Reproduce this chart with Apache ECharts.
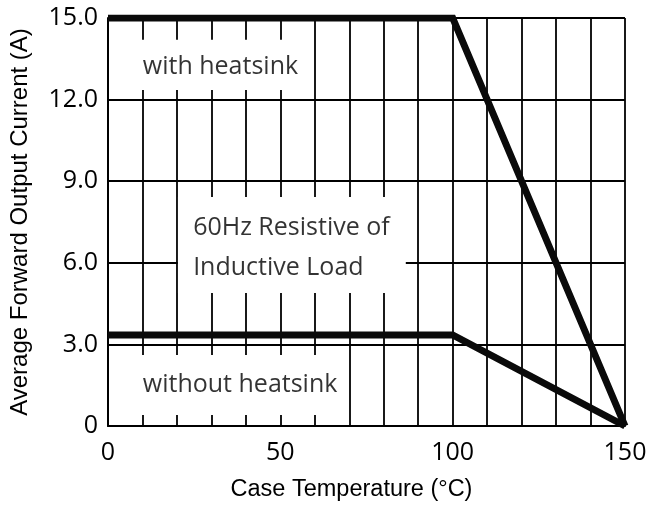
<!DOCTYPE html>
<html>
<head>
<meta charset="utf-8">
<script src="https://cdn.jsdelivr.net/npm/echarts@6/dist/echarts.min.js"></script>
<style>
html,body{margin:0;padding:0;background:#fff;}
#chart{width:654px;height:507px;}
</style>
</head>
<body>
<div id="chart"></div>
<script>
// ---- data ----
const caseTemp = [0, 100, 150];
const currentWithHeatsink = [15, 15, 0];
const currentWithoutHeatsink = [3.35, 3.35, 0];
const xTickLabels = ['0', '50', '100', '150'];
const yTickLabels = ['0', '3.0', '6.0', '9.0', '12.0', '15.0'];
const annotationTexts = ['with heatsink', '60Hz Resistive of\nInductive Load', 'without heatsink'];

// ---- layout (annotation anchors & white label boxes, in data units) ----
const annotationAnchors = [[10.1, 13.2], [24.7, 6.55], [10.1, 1.52]];
const labelBoxes = [
  [[0.6, 12.35], [57, 14.2]],
  [[20.3, 4.89], [86.4, 8.42]],
  [[0.6, 0.40], [68.8, 2.61]]
];

const chart = echarts.init(document.getElementById('chart'), null, {renderer: 'canvas'});
const zip = (a, b) => a.map((v, i) => [v, b[i]]);
const tickFont = 'Open Sans';

chart.setOption({
  backgroundColor: '#fff',
  animation: false,
  grid: {left: 108, right: 29, top: 18, bottom: 81, containLabel: false},
  xAxis: {
    type: 'value', min: 0, max: 150, interval: 10,
    name: 'Case Temperature (°C)', nameLocation: 'middle', nameGap: 52,
    nameTextStyle: {fontFamily: 'Liberation Sans', fontSize: 23.5, color: '#000', padding: [0, 30, 0, 0]},
    axisLine: {show: true, lineStyle: {color: '#000', width: 2}},
    axisTick: {show: false},
    axisLabel: {
      margin: 14, fontFamily: tickFont, fontSize: 25, color: '#000',
      formatter: v => { const i = v / 50; return Number.isInteger(i) ? xTickLabels[i] : ''; }
    },
    splitLine: {show: true, lineStyle: {color: '#000', width: 1.8}}
  },
  yAxis: {
    type: 'value', min: 0, max: 15, interval: 3,
    name: 'Average Forward Output Current (A)', nameLocation: 'middle', nameGap: 76,
    nameTextStyle: {fontFamily: 'Liberation Sans', fontSize: 24, color: '#000'},
    axisLine: {show: true, lineStyle: {color: '#000', width: 2}},
    axisTick: {show: false},
    axisLabel: {
      margin: 10, fontFamily: tickFont, fontSize: 25, color: '#000',
      formatter: v => yTickLabels[Math.round(v / 3)]
    },
    splitLine: {show: true, lineStyle: {color: '#000', width: 1.8}}
  },
  series: [
    {
      type: 'scatter', data: [], symbolSize: 0, z: 1, silent: true,
      markArea: {
        silent: true,
        itemStyle: {color: '#fff', borderWidth: 0},
        label: {show: false},
        data: labelBoxes.map(b => [{coord: b[0]}, {coord: b[1]}])
      }
    },
    {
      name: 'with heatsink', type: 'line', data: zip(caseTemp, currentWithHeatsink),
      symbol: 'none', z: 3,
      lineStyle: {color: '#0a0a0a', width: 7, join: 'miter'}
    },
    {
      name: 'without heatsink', type: 'line', data: zip(caseTemp, currentWithoutHeatsink),
      symbol: 'none', z: 3,
      lineStyle: {color: '#0a0a0a', width: 7, join: 'miter'}
    },
    {
      type: 'scatter', z: 5, silent: true, symbolSize: 0,
      data: annotationAnchors.map((p, i) => ({value: p, name: annotationTexts[i]})),
      label: {
        show: true, position: 'right', distance: 0, align: 'left', verticalAlign: 'middle',
        fontFamily: tickFont, fontSize: 25, lineHeight: 40, color: '#000',
        formatter: p => p.name
      }
    }
  ]
});
</script>
</body>
</html>
